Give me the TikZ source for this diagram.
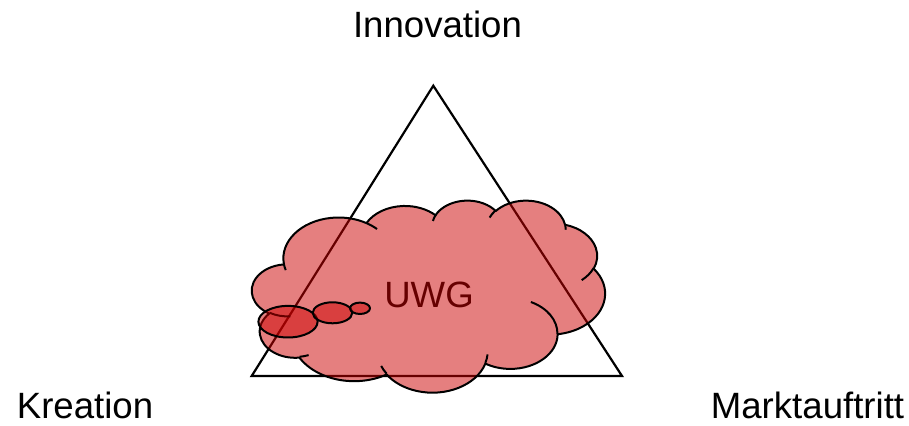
\documentclass[tikz,border=0pt]{standalone}
\usepackage{fontspec}
\setmainfont{Liberation Sans}
\definecolor{uwgred}{RGB}{204,0,0}

% one lobe of the cloud: x radius, y radius, start and sweep (angles as seen on the ellipse)
\tikzset{
  lobe/.code n args={4}{%
    \pgfmathsetmacro\lobestart{atan2(#1*sin(#3),#2*cos(#3))}%
    \pgfmathsetmacro\lobeend{atan2(#1*sin(#3+#4),#2*cos(#3+#4))}%
    \pgfmathsetmacro\lobesweep{mod(\lobeend-\lobestart+720,360)}%
    \edef\lobekeys{\noexpand\pgfkeysalso{/tikz/x radius=#1,/tikz/y radius=#2,/tikz/start angle=\lobestart,/tikz/delta angle=\lobesweep}}%
    \lobekeys},
  cloudline/.style={line width=1pt, line join=round},
  cornertext/.style={font=\fontsize{18.3}{22}\selectfont, anchor=base},
}

\begin{document}
\begin{tikzpicture}[x=0.5pt, y=0.5pt]
    \useasboundingbox (0,0) rectangle (909,426);

    % Draw the triangle
    \coordinate (top) at (433.3,340.3);
    \coordinate (left) at (251.7,50);
    \coordinate (right) at (622,50);
    \draw[line width=1.1pt, line join=miter] (top) -- (right) -- (left) -- cycle;

    % Corner labels
    \node[cornertext] (innovation) at (437.5,388) {Innovation};
    \node[cornertext] (kreation) at (85,7) {Kreation};
    \node[cornertext] (markt) at (807.5,7) {Marktauftritt};
    \node[cornertext] (uwg) at (429,118.7) {UWG};

    % Cloud on top, half transparent
    \begin{scope}[shift={(252,226)}, x=0.40856pt, y=-0.22222pt]
        \draw[cloudline, fill=uwgred, fill opacity=0.5] (39.00,143.70)
            arc[lobe={67.53}{91.90}{-190.4875}{123.7805}]
            arc[lobe={53.33}{72.67}{-144.1024}{89.9452}]
            arc[lobe={43.65}{59.45}{-145.8079}{99.7230}]
            arc[lobe={48.57}{65.95}{-130.9861}{117.2417}]
            arc[lobe={53.33}{72.73}{-78.7089}{109.0269}]
            arc[lobe={67.75}{92.20}{-46.2673}{130.2690}]
            arc[lobe={57.85}{78.67}{0.6250}{114.0333}]
            arc[lobe={67.52}{92.15}{22.4516}{115.1726}]
            arc[lobe={77.20}{105.43}{66.2426}{75.7110}]
            arc[lobe={43.60}{59.18}{-274.9421}{146.7356}]
            arc[lobe={43.45}{59.45}{-246.8285}{152.5189}]
            -- cycle;
        % inner arcs between the lobes
        \foreach \px/\py/\a/\b/\s/\w in {
            46.93/261.77/43.45/59.45/86.7420/26.4295,
            69.28/348.99/43.60/59.18/73.6105/11.4475,
            164.78/390.90/67.52/92.15/137.6242/14.0811,
            288.27/347.51/67.52/92.15/6.4533/15.9984,
            341.29/229.54/57.85/78.67/-70.2924/70.9174,
            417.98/153.54/53.33/72.73/30.3180/27.7515,
            383.24/54.26/48.57/65.95/-13.7443/14.8589,
            290.78/39.52/48.57/65.95/-149.1815/18.1954,
            221.41/47.20/43.65/59.45/-163.4943/17.6864,
            140.00/51.92/67.53/91.90/-66.7070/12.3194,
            41.27/157.89/67.53/91.90/157.6544/11.8582}
            \draw[cloudline] (\px,\py) arc[lobe={\a}{\b}{\s}{\w}];
    \end{scope}

    % Bubbles of the cloud
    \foreach \cx/\cy/\rx/\ry in {288/104.3/29.6/15.8, 332.5/113.2/19.8/10.5, 360/117.7/10/5.7}
        \draw[cloudline, fill=uwgred, fill opacity=0.5] (\cx,\cy) ellipse[x radius=\rx, y radius=\ry];
\end{tikzpicture}
\end{document}
